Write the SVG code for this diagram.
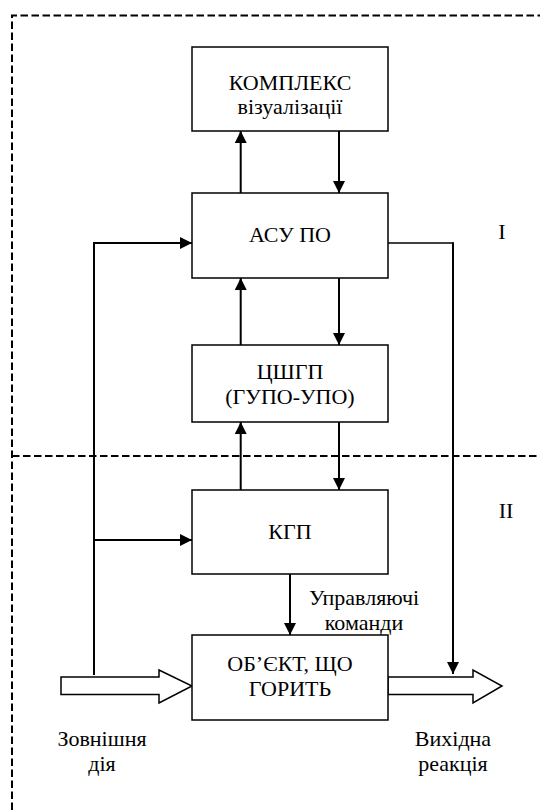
<svg xmlns="http://www.w3.org/2000/svg" width="540" height="810" viewBox="0 0 540 810">
  <style>
    .box { fill: #fff; stroke: #000; stroke-width: 1.5; }
    .lbl { font-family: 'Liberation Serif', 'Times New Roman', serif; font-size: 22px; fill: #000; text-anchor: middle; }
    .zone { fill: none; stroke: #000; stroke-width: 2; stroke-dasharray: 7.5 3.5; }
    .wire { fill: none; stroke: #000; stroke-width: 2; }
    .thin { fill: none; stroke: #000; stroke-width: 1.5; }
    .flow { fill: #fff; stroke: #000; stroke-width: 1.5; }
  </style>
  <defs>
    <marker id="arr" markerUnits="userSpaceOnUse" markerWidth="12" markerHeight="12" viewBox="0 0 12 12" refX="12" refY="6" orient="auto">
      <path d="M0,0 L12,6 L0,12 Z" fill="#000"/>
    </marker>
  </defs>
  <rect width="540" height="810" fill="#fff"/>

  <!-- zone boundaries and zone numbers -->
  <g id="zones">
    <path class="zone" d="M12,810 V15.5 H540"/>
    <path class="zone" d="M12,456 H540"/>
    <text class="lbl" x="502" y="239">I</text>
    <text class="lbl" x="506" y="518">II</text>
  </g>

  <!-- connectors -->
  <g id="connectors">
    <path class="wire" d="M240.7,193 V131" marker-end="url(#arr)"/>
    <path class="wire" d="M339,131 V193" marker-end="url(#arr)"/>
    <path class="wire" d="M240.7,345 V278" marker-end="url(#arr)"/>
    <path class="wire" d="M339,278 V345" marker-end="url(#arr)"/>
    <path class="wire" d="M240.7,490 V422" marker-end="url(#arr)"/>
    <path class="wire" d="M339,422 V490" marker-end="url(#arr)"/>
    <path class="wire" d="M290,574 V635" marker-end="url(#arr)"/>
    <path class="wire" d="M94,675 V243 H192" marker-end="url(#arr)"/>
    <path class="wire" d="M94,540 H192" marker-end="url(#arr)"/>
    <path class="thin" d="M388,243 H453"/>
    <path class="wire" d="M453,242.3 V674" marker-end="url(#arr)"/>
    <!-- hollow flow arrows: external action in, output reaction out -->
    <polygon class="flow" points="61,677 159,677 159,670 192,686 159,703 159,694.5 61,694.5"/>
    <polygon class="flow" points="388,677 473,677 473,670 502,686 473,703 473,694.5 388,694.5"/>
  </g>

  <g id="node-complex">
    <rect class="box" x="192" y="47" width="196" height="84"/>
    <text class="lbl" x="290" y="90">КОМПЛЕКС</text>
    <text class="lbl" x="290" y="114">візуалізації</text>
  </g>
  <g id="node-asu">
    <rect class="box" x="192" y="193" width="196" height="85"/>
    <text class="lbl" x="290" y="242">АСУ ПО</text>
  </g>
  <g id="node-cshgp">
    <rect class="box" x="192" y="345" width="196" height="77"/>
    <text class="lbl" x="290" y="379">ЦШГП</text>
    <text class="lbl" x="290" y="404">(ГУПО-УПО)</text>
  </g>
  <g id="node-kgp">
    <rect class="box" x="192" y="490" width="196" height="84"/>
    <text class="lbl" x="290" y="539">КГП</text>
  </g>
  <g id="node-object">
    <rect class="box" x="192" y="635" width="196" height="85"/>
    <text class="lbl" x="290" y="671">ОБ’ЄКТ, ЩО</text>
    <text class="lbl" x="290" y="696">ГОРИТЬ</text>
  </g>

  <g id="labels">
    <text class="lbl" x="364" y="605">Управляючі</text>
    <text class="lbl" x="364" y="630">команди</text>
    <text class="lbl" x="102" y="746">Зовнішня</text>
    <text class="lbl" x="102" y="771">дія</text>
    <text class="lbl" x="453" y="746">Вихідна</text>
    <text class="lbl" x="453" y="771">реакція</text>
  </g>
</svg>
